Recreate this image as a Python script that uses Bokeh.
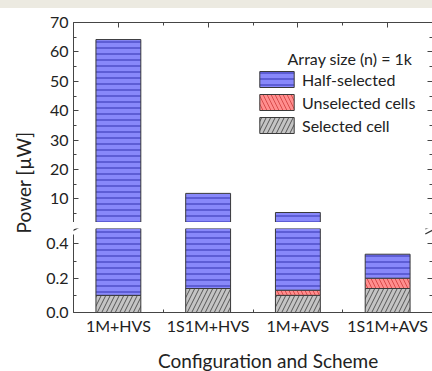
from bokeh.plotting import figure
from bokeh.models import (ColumnDataSource, Range1d, LinearAxis,
                          SingleIntervalTicker, FixedTicker, NumeralTickFormatter,
                          CustomJSTickFormatter, Legend, LegendItem, Label, Arrow, Div)
from bokeh.layouts import column, row
from bokeh.embed import file_html
from bokeh.resources import INLINE

# ---------------- data ----------------
categories = ["1M+HVS", "1S1M+HVS", "1M+AVS", "1S1M+AVS"]
selected_cell = [0.10, 0.14, 0.10, 0.14]
unselected_cells = [0.00, 0.00, 0.03, 0.06]
half_selected = [64.1, 11.76, 5.27, 0.14]
series_labels = ["Selected cell", "Unselected cells", "Half-selected"]
upper_range = (2, 70)
lower_range = (0, 0.49)

# ---------------- styles ----------------
FONT = "Lato"
TXT = "#222222"
AX = "#454545"
fills = ["#C4C4C4", "#FF8E8E", "#8888FA"]
hatches = ["/", "\\", "-"]
hatch_cols = ["#555555", "#D84C4C", "#3232B0"]
hatch_scales = [9, 8, 6]

n = len(categories)
centers = [i + 0.5 for i in range(n)]      # slot centre of each category
between = list(range(1, n))
src = ColumnDataSource(dict(x=centers, cat=categories, sel=selected_cell,
                            unsel=unselected_cells, half=half_selected))
xr = Range1d(0, n)


def make_fig(height, yr, top, bottom):
    p = figure(width=392, height=height, x_range=xr, y_range=Range1d(*yr),
               toolbar_location=None, output_backend="svg",
               x_axis_location=None, y_axis_location=None,
               min_border_left=33, min_border_right=0,
               min_border_top=top, min_border_bottom=bottom,
               outline_line_color=None, background_fill_color="white",
               border_fill_color="white")
    p.grid.visible = False
    rs = p.vbar_stack(["sel", "unsel", "half"], x="x", width=0.5, source=src,
                      fill_color=fills, line_color="#3a3a3a", line_width=1,
                      hatch_pattern=hatches, hatch_color=hatch_cols,
                      hatch_scale=hatch_scales, hatch_weight=1)
    return p, rs


def y_axis(ticker, labels, fmt=None, bounds="auto"):
    ax = LinearAxis(ticker=ticker, bounds=bounds,
                    axis_line_color=AX, major_tick_line_color=AX,
                    minor_tick_line_color=AX,
                    major_tick_in=5, major_tick_out=0,
                    minor_tick_in=3, minor_tick_out=0)
    if labels:
        ax.major_label_standoff = 5
        ax.major_label_text_font = FONT
        ax.major_label_text_font_size = "16px"
        ax.major_label_text_color = TXT
        if fmt is not None:
            ax.formatter = fmt
    else:
        ax.formatter = CustomJSTickFormatter(code="return ''")
        ax.major_label_standoff = 0
        ax.major_label_text_font_size = "1px"
    return ax


def x_axis(labels, major_in):
    ax = LinearAxis(ticker=FixedTicker(ticks=centers, minor_ticks=between),
                    axis_line_color=AX, major_tick_line_color=AX,
                    minor_tick_line_color=AX,
                    major_tick_in=major_in, major_tick_out=0,
                    minor_tick_in=3, minor_tick_out=0)
    if labels:
        ax.major_label_overrides = {c: name for c, name in zip(centers, categories)}
        ax.major_label_standoff = 3
        ax.major_label_text_font = FONT
        ax.major_label_text_font_size = "16px"
        ax.major_label_text_color = TXT
    else:
        ax.formatter = CustomJSTickFormatter(code="return ''")
        ax.major_label_standoff = 0
        ax.major_label_text_font_size = "1px"
    return ax


def blank_fig(w, h):
    f = figure(width=w, height=h, x_range=Range1d(0, w), y_range=Range1d(0, h),
               toolbar_location=None, output_backend="svg",
               x_axis_location=None, y_axis_location=None, min_border=0,
               outline_line_color=None)
    f.grid.visible = False
    return f


# ---------------- upper panel ----------------
p_top, r_top = make_fig(214, upper_range, 14, 0)
up_ticker = SingleIntervalTicker(interval=10, num_minor_ticks=2)
p_top.add_layout(y_axis(up_ticker, True), "left")
p_top.add_layout(y_axis(up_ticker, False), "right")
p_top.add_layout(x_axis(False, 5), "above")

legend = Legend(items=[LegendItem(label=series_labels[2], renderers=[r_top[2]]),
                       LegendItem(label=series_labels[1], renderers=[r_top[1]]),
                       LegendItem(label=series_labels[0], renderers=[r_top[0]])],
                location=(182, 87), padding=0, margin=0, spacing=3,
                glyph_width=43, glyph_height=20, label_height=20,
                label_standoff=4, border_line_color=None,
                background_fill_alpha=0, label_text_font=FONT,
                label_text_font_size="16px", label_text_color=TXT)
p_top.add_layout(legend)
p_top.add_layout(Label(x=2.385, y=57.8, text="Array size (n) = 1k",
                       text_font=FONT, text_font_size="16px", text_color=TXT,
                       text_align="left", text_baseline="middle"))

# ---------------- lower panel ----------------
p_bot, r_bot = make_fig(115, lower_range, 6, 24)
lo_ticker = SingleIntervalTicker(interval=0.2, num_minor_ticks=2)
p_bot.add_layout(y_axis(lo_ticker, True, NumeralTickFormatter(format="0.0"),
                        bounds=(0, 0.455)), "left")
p_bot.add_layout(y_axis(lo_ticker, False, bounds=(0, 0.455)), "right")
p_bot.add_layout(x_axis(True, 0), "below")

# axis-break marks
for x0 in (0, n):
    for yc in (0.509, 0.480):
        p_bot.add_layout(Arrow(x_start=x0 - 0.08, y_start=yc - 0.022,
                               x_end=x0 + 0.08, y_end=yc + 0.022, end=None,
                               line_color="#333333", line_width=1.3))

# ---------------- axis titles ----------------
p_xt = blank_fig(392, 34)
p_xt.add_layout(Label(x=212.5, y=11, text="Configuration and Scheme",
                      text_font=FONT, text_font_size="19px", text_color=TXT,
                      text_align="center", text_baseline="middle"))

p_lab = blank_fig(40, 363)
p_lab.add_layout(Label(x=22.5, y=363 - (182 - 8), text="Power [µW]", angle=90,
                       angle_units="deg", text_font=FONT, text_font_size="19px",
                       text_color=TXT, text_align="center", text_baseline="middle"))

band = Div(text="", width=432, height=8, margin=0,
           styles={"background-color": "#ECEAE1"})

layout = column(band, row(p_lab, column(p_top, p_bot, p_xt)))
open("out.html", "w").write(file_html(layout, INLINE))
